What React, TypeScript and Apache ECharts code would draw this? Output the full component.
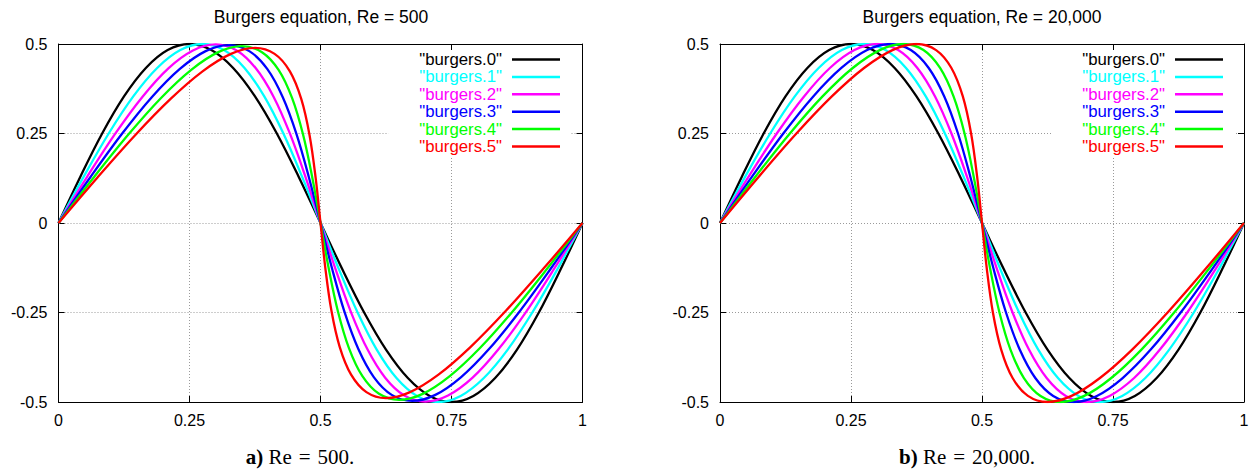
import React, { useEffect, useRef } from "react";
import * as echarts from "echarts";

// sample points along each curve (x positions per time level)
const x0 = [0, 0.0417, 0.0833, 0.125, 0.1667, 0.2083, 0.25, 0.2917, 0.3333, 0.375, 0.4167, 0.4583, 0.5, 0.5417, 0.5833, 0.625, 0.6667, 0.7083, 0.75, 0.7917, 0.8333, 0.875, 0.9167, 0.9583, 1];
const x1 = [0, 0.0481, 0.0958, 0.1427, 0.1883, 0.2325, 0.275, 0.3158, 0.355, 0.3927, 0.4292, 0.4648, 0.5, 0.5352, 0.5708, 0.6073, 0.645, 0.6842, 0.725, 0.7675, 0.8117, 0.8573, 0.9042, 0.9519, 1];
const x2 = [0, 0.0546, 0.1083, 0.1604, 0.2097, 0.2566, 0.3, 0.34, 0.3766, 0.4104, 0.4417, 0.4713, 0.5, 0.5287, 0.5583, 0.5896, 0.6234, 0.66, 0.7, 0.7434, 0.7903, 0.8396, 0.8917, 0.9454, 1];
const x3 = [0, 0.0611, 0.1208, 0.178, 0.2316, 0.2808, 0.325, 0.3641, 0.3983, 0.428, 0.4542, 0.4777, 0.5, 0.5223, 0.5458, 0.572, 0.6017, 0.6359, 0.675, 0.7192, 0.7684, 0.822, 0.8792, 0.9389, 1];
const x4 = [0, 0.0676, 0.1333, 0.1957, 0.2533, 0.3049, 0.35, 0.3883, 0.42, 0.4457, 0.4667, 0.4842, 0.5, 0.5158, 0.5333, 0.5543, 0.58, 0.6117, 0.65, 0.6951, 0.7467, 0.8043, 0.8667, 0.9324, 1];
const x5 = [0, 0.074, 0.1458, 0.2134, 0.2749, 0.3291, 0.375, 0.4124, 0.4416, 0.4634, 0.4792, 0.4907, 0.5, 0.5093, 0.5208, 0.5366, 0.5584, 0.5876, 0.625, 0.6709, 0.7251, 0.7866, 0.8542, 0.926, 1];

// Re = 500 values (slight viscous damping of the peaks)
const re500Y0 = [0, 0.1294, 0.25, 0.3536, 0.433, 0.483, 0.5, 0.483, 0.433, 0.3536, 0.25, 0.1294, 0, -0.1294, -0.25, -0.3536, -0.433, -0.483, -0.5, -0.483, -0.433, -0.3536, -0.25, -0.1294, 0];
const re500Y1 = [0, 0.1294, 0.25, 0.3536, 0.433, 0.483, 0.5, 0.483, 0.433, 0.3536, 0.25, 0.1294, 0, -0.1294, -0.25, -0.3536, -0.433, -0.483, -0.5, -0.483, -0.433, -0.3536, -0.25, -0.1294, 0];
const re500Y2 = [0, 0.1291, 0.2495, 0.3529, 0.4321, 0.482, 0.499, 0.482, 0.4321, 0.3529, 0.2495, 0.1291, 0, -0.1291, -0.2495, -0.3529, -0.4321, -0.482, -0.499, -0.482, -0.4321, -0.3529, -0.2495, -0.1291, 0];
const re500Y3 = [0, 0.1286, 0.2485, 0.3514, 0.4304, 0.4801, 0.497, 0.4801, 0.4304, 0.3514, 0.2485, 0.1286, 0, -0.1286, -0.2485, -0.3514, -0.4304, -0.4801, -0.497, -0.4801, -0.4304, -0.3514, -0.2485, -0.1286, 0];
const re500Y4 = [0, 0.1279, 0.247, 0.3493, 0.4278, 0.4772, 0.494, 0.4772, 0.4278, 0.3493, 0.247, 0.1279, 0, -0.1279, -0.247, -0.3493, -0.4278, -0.4772, -0.494, -0.4772, -0.4278, -0.3493, -0.247, -0.1279, 0];
const re500Y5 = [0, 0.1266, 0.2445, 0.3458, 0.4235, 0.4723, 0.489, 0.4723, 0.4235, 0.3458, 0.2445, 0.1266, 0, -0.1266, -0.2445, -0.3458, -0.4235, -0.4723, -0.489, -0.4723, -0.4235, -0.3458, -0.2445, -0.1266, 0];

// Re = 20,000 values (peaks stay at 0.5)
const re20kY = [0, 0.1294, 0.25, 0.3536, 0.433, 0.483, 0.5, 0.483, 0.433, 0.3536, 0.25, 0.1294, 0, -0.1294, -0.25, -0.3536, -0.433, -0.483, -0.5, -0.483, -0.433, -0.3536, -0.25, -0.1294, 0];

const seriesNames = ['"burgers.0"', '"burgers.1"', '"burgers.2"', '"burgers.3"', '"burgers.4"', '"burgers.5"'];
const seriesColors = ["#000000", "#00ffff", "#ff00ff", "#0000ff", "#00ff00", "#ff0000"];
const xTicks = [0, 0.25, 0.5, 0.75, 1];
const yTicks = [-0.5, -0.25, 0, 0.25, 0.5];
const chartTitles = ["Burgers equation, Re = 500", "Burgers equation, Re = 20,000"];
const captionTags = ["a)", "b)"];
const captionTexts = ["Re\u2004=\u2004500.", "Re\u2004=\u200420,000."];

const xSets = [x0, x1, x2, x3, x4, x5];
const leftY = [re500Y0, re500Y1, re500Y2, re500Y3, re500Y4, re500Y5];
const rightY = [re20kY, re20kY, re20kY, re20kY, re20kY, re20kY];

const SANS = "'Liberation Sans', Arial, Helvetica, sans-serif";
const SERIF = "'Liberation Serif', 'DejaVu Serif', serif";

export default function App() {
  const ref = useRef<HTMLDivElement>(null);
  useEffect(() => {
    if (!ref.current) return;
    const chart = echarts.init(ref.current, undefined, { renderer: "svg" });

    const grids = [
      { left: 58.5, top: 44, width: 524, height: 358 },
      { left: 720, top: 44, width: 524, height: 358 },
    ];

    const axisLine = { show: true, onZero: false, lineStyle: { color: "#000", width: 1 } };
    const axisTick = { show: true, inside: true, length: 6, lineStyle: { color: "#000", width: 1 } };
    const splitLine = { show: true, lineStyle: { color: "#9a9a9a", width: 1, type: [1, 2] as any } };
    const labelStyle = { color: "#000", fontFamily: SANS, fontSize: 16 };

    const xAxis: any[] = [];
    const yAxis: any[] = [];
    [0, 1].forEach((g) => {
      xAxis.push({
        gridIndex: g, type: "value", position: "bottom",
        min: xTicks[0], max: xTicks[xTicks.length - 1], interval: 0.25,
        axisLine, axisTick, splitLine,
        axisLabel: { ...labelStyle, margin: 10, showMinLabel: true, showMaxLabel: true },
      });
      xAxis.push({
        gridIndex: g, type: "value", position: "top",
        min: xTicks[0], max: xTicks[xTicks.length - 1], interval: 0.25,
        axisLine, axisTick, splitLine: { show: false }, axisLabel: { show: false },
      });
      yAxis.push({
        gridIndex: g, type: "value", position: "left",
        min: yTicks[0], max: yTicks[yTicks.length - 1], interval: 0.25,
        axisLine, axisTick, splitLine,
        axisLabel: { ...labelStyle, margin: 11 },
      });
      yAxis.push({
        gridIndex: g, type: "value", position: "right",
        min: yTicks[0], max: yTicks[yTicks.length - 1], interval: 0.25,
        axisLine, axisTick, splitLine: { show: false }, axisLabel: { show: false },
      });
    });

    const series: any[] = [];
    [leftY, rightY].forEach((ySets, g) => {
      seriesNames.forEach((name, i) => {
        series.push({
          type: "line",
          name,
          xAxisIndex: g * 2,
          yAxisIndex: g * 2,
          data: xSets[i].map((x, j) => [x, ySets[i][j]]),
          showSymbol: false,
          symbol: "none",
          smooth: 0.35,
          lineStyle: { color: seriesColors[i], width: 2.3 },
          itemStyle: { color: seriesColors[i] },
          z: 2 + i * 0.01,
        });
      });
    });

    const legendData = seriesNames.map((n, i) => ({
      name: n,
      textStyle: { color: seriesColors[i] },
    }));

    const legendBase = {
      orient: "vertical",
      align: "right",
      icon: "rect",
      itemWidth: 48,
      itemHeight: 2.5,
      itemGap: 0.4,
      selectedMode: false,
      backgroundColor: "#ffffff",
      textStyle: {
        fontFamily: SANS, fontSize: 16.8, lineHeight: 17, padding: [0, 5, 0, 0],
      },
      data: legendData,
      z: 10,
    };

    const legend = [
      { ...legendBase, top: 50, right: 1254 - 571, padding: [1, 11, 2, 31] },
      { ...legendBase, top: 50, right: 1254 - 1235, padding: [1, 12, 2, 31] },
    ];

    const centers = [321, 982];
    const captionCenters = [300, 967];
    const graphic: any[] = [];
    [0, 1].forEach((g) => {
      graphic.push({
        type: "text", x: centers[g], y: 17,
        style: {
          text: chartTitles[g], align: "center", verticalAlign: "middle",
          fontFamily: SANS, fontSize: 17.5, fill: "#000",
        },
      });
      graphic.push({
        type: "text", x: captionCenters[g], y: 457,
        style: {
          text: `{b|${captionTags[g]}}{n| ${captionTexts[g]}}`,
          align: "center", verticalAlign: "middle",
          fontFamily: SERIF, fontSize: 21, fill: "#000",
          rich: {
            b: { fontWeight: "bold", fontFamily: SERIF, fontSize: 21, fill: "#000", color: "#000" },
            n: { fontFamily: SERIF, fontSize: 21, fill: "#000", color: "#000" },
          },
        },
      });
    });

    chart.setOption({
      animation: false,
      backgroundColor: "#ffffff",
      grid: grids,
      xAxis,
      yAxis,
      legend,
      series,
      graphic,
    });
    return () => chart.dispose();
  }, []);
  return (
    <div
      ref={ref}
      style={{ position: "fixed", left: 0, top: 0, width: 1254, height: 475 }}
    />
  );
}
